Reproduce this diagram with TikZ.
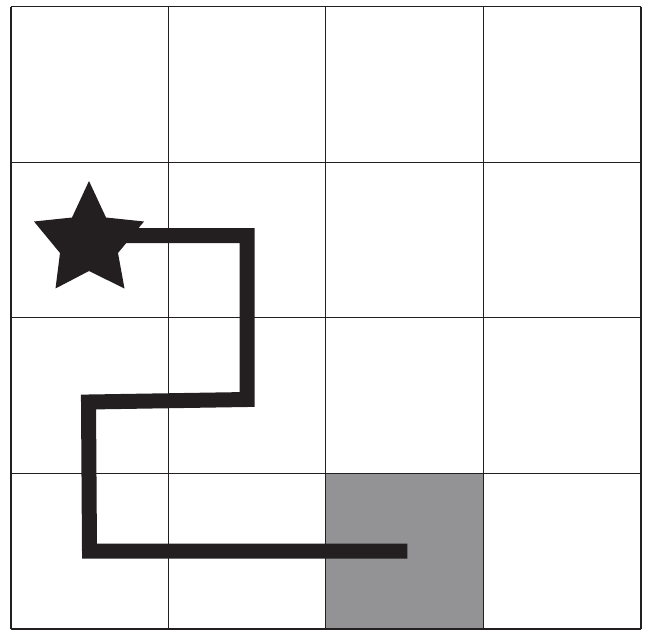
\documentclass[tikz,border=0pt]{standalone}
\definecolor{ink}{HTML}{231F20}
\definecolor{cellgray}{HTML}{939395}
\begin{document}
\begin{tikzpicture}[x=1pt,y=-1pt,
  gridline/.style={draw=ink,line width=1.4pt},
  route/.style={draw=ink,line width=15pt,line join=miter,line cap=butt},
  starshape/.style={fill=ink}]
\useasboundingbox (0,0) rectangle (651,630);
% grey cell
\fill[cellgray] (325.7,473.3) rectangle (483.3,629);
% grid
\foreach \x in {11,168.3,325.7,483.3,641}
  \draw[gridline] (\x,6.7) -- (\x,629);
\foreach \y in {6.7,162.3,317.7,473.3,629}
  \draw[gridline] (11,\y) -- (641,\y);
% route
\coordinate (s) at (115,235.5);
\coordinate (a) at (247,235.5);
\coordinate (b) at (247,399.5);
\coordinate (c) at (88.5,402);
\coordinate (d) at (89.5,551);
\coordinate (e) at (407.3,551);
\draw[route] (s) -- (a) -- (b) -- (c) -- (d) -- (e);
% star
\fill[starshape] (89,181) -- (106,217.5) -- (144,221.5) -- (118,253) -- (124.5,288.5)
  -- (89,271) -- (55.5,288.5) -- (60,253) -- (34,221.5) -- (72,217.5) -- cycle;
\end{tikzpicture}
\end{document}
